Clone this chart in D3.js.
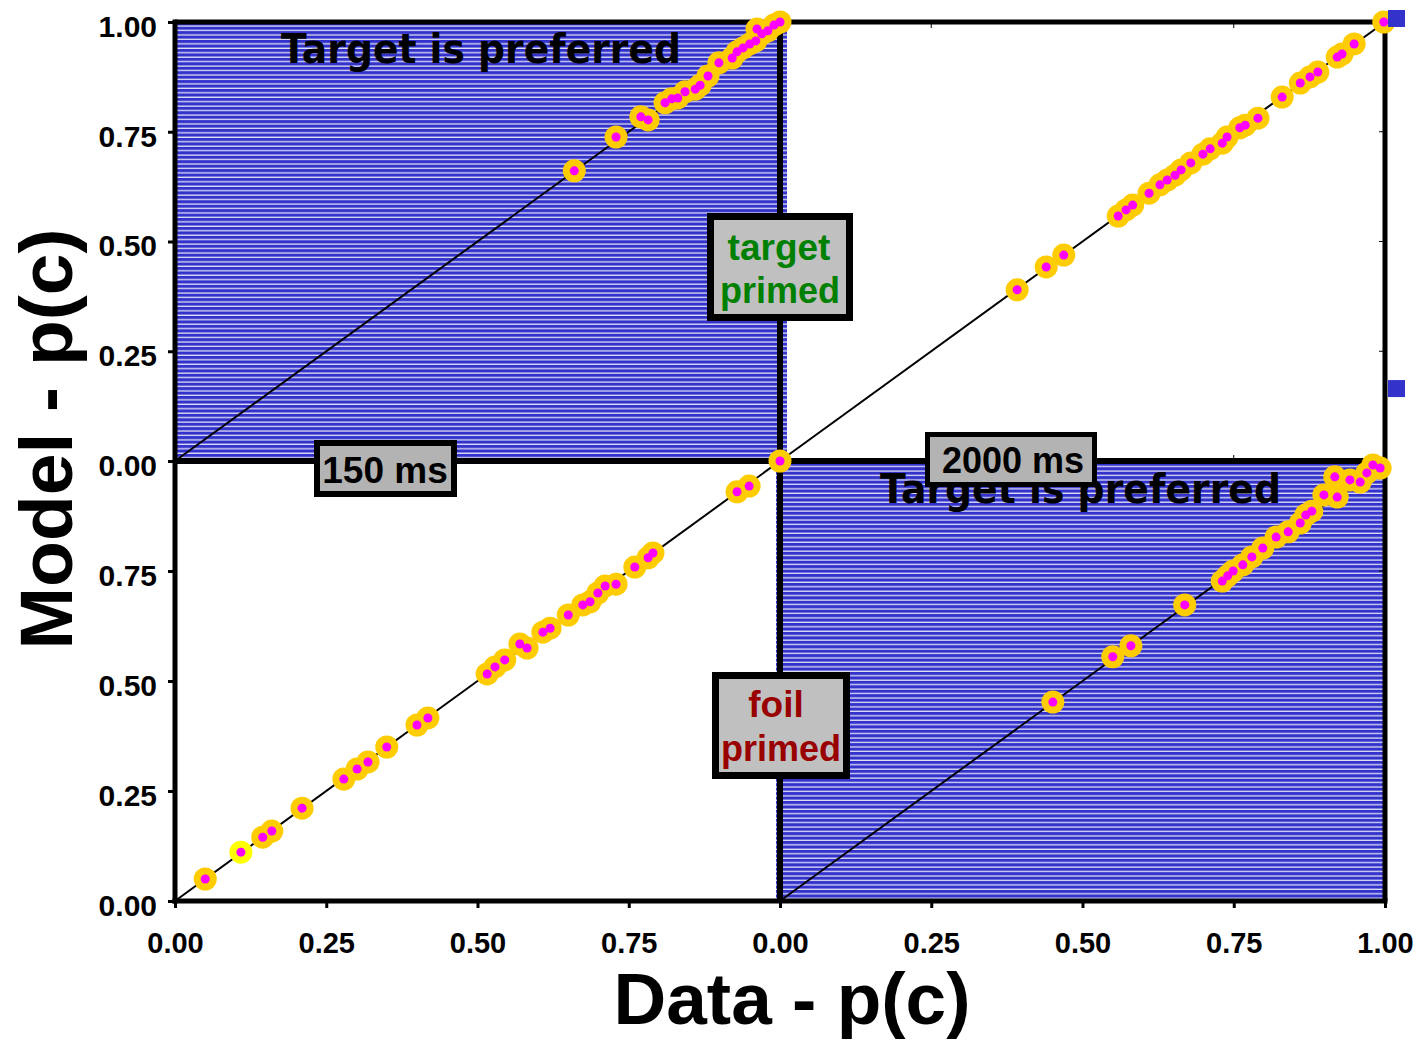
<!DOCTYPE html>
<html>
<head>
<meta charset="utf-8">
<script src="https://cdn.jsdelivr.net/npm/d3@7"></script>
<style>
  html, body { margin: 0; padding: 0; background: #ffffff; }
  svg { display: block; }
</style>
</head>
<body>
<div id="chart"></div>
<script>
// Model vs data proportion correct, four conditions: prime type x prime duration.
// Each point is [data p(c), model p(c)].

const tickValues = [0, 0.25, 0.5, 0.75, 1];

const targetPrimed150 = [
  [0.660, 0.661], [0.729, 0.738], [0.770, 0.784], [0.782, 0.777], [0.810, 0.816],
  [0.821, 0.825], [0.831, 0.827], [0.843, 0.841], [0.860, 0.847], [0.868, 0.856],
  [0.881, 0.877], [0.899, 0.907], [0.921, 0.918], [0.929, 0.932], [0.939, 0.941],
  [0.950, 0.950], [0.960, 0.957], [0.962, 0.984], [0.970, 0.973], [0.980, 0.980],
  [0.990, 0.993], [1.000, 1.000]
];

const targetPrimed2000 = [
  [0.392, 0.390], [0.440, 0.442], [0.469, 0.469], [0.559, 0.558], [0.572, 0.572],
  [0.583, 0.583], [0.610, 0.610], [0.628, 0.629], [0.640, 0.640], [0.653, 0.651],
  [0.663, 0.663], [0.679, 0.679], [0.699, 0.699], [0.711, 0.711], [0.731, 0.724],
  [0.739, 0.738], [0.760, 0.759], [0.769, 0.765], [0.790, 0.781], [0.830, 0.829],
  [0.860, 0.861], [0.876, 0.875], [0.889, 0.886], [0.921, 0.920], [0.929, 0.927],
  [0.949, 0.950], [0.998, 1.000]
];

const foilPrimed150 = [
  [0.050, 0.050], [0.145, 0.145], [0.160, 0.159], [0.210, 0.211],
  [0.279, 0.277], [0.301, 0.300], [0.319, 0.316], [0.350, 0.350], [0.400, 0.400],
  [0.418, 0.416], [0.516, 0.516], [0.529, 0.532], [0.545, 0.548], [0.570, 0.584],
  [0.582, 0.575], [0.608, 0.611], [0.620, 0.620], [0.650, 0.650], [0.674, 0.673],
  [0.686, 0.680], [0.699, 0.700], [0.711, 0.716], [0.729, 0.720], [0.760, 0.759],
  [0.782, 0.780], [0.790, 0.791], [0.929, 0.930], [0.949, 0.943], [1.000, 1.000]
];

// single highlighted condition in the 150 ms foil-primed set
const foilPrimed150Highlight = [[0.109, 0.111]];

const foilPrimed2000 = [
  [0.451, 0.452], [0.550, 0.555], [0.580, 0.580], [0.669, 0.673], [0.731, 0.727],
  [0.740, 0.739], [0.749, 0.750], [0.765, 0.764], [0.780, 0.782], [0.798, 0.802],
  [0.820, 0.827], [0.840, 0.839], [0.860, 0.859], [0.869, 0.877], [0.879, 0.886],
  [0.899, 0.923], [0.921, 0.918], [0.917, 0.964], [0.942, 0.957], [0.959, 0.952],
  [0.970, 0.973], [0.980, 0.991], [0.992, 0.984]
];

// stray square markers just outside the 2000 ms target-primed panel
const squareMarks2000 = [[1.019, 1.008], [1.019, 0.165]];

const panelLabels = ["150 ms", "2000 ms"];
const primeLabels = [["target", "primed"], ["foil", "primed"]];
const preferenceLabel = "Target is preferred";
const xTitle = "Data - p(c)";
const yTitle = "Model - p(c)";

const W = 1419, H = 1041;
const svg = d3.select("#chart").append("svg")
  .attr("width", W).attr("height", H)
  .attr("viewBox", `0 0 ${W} ${H}`);

// horizontal line hatch used for "target is preferred" regions
const defs = svg.append("defs");
const pat = defs.append("pattern")
  .attr("id", "hatch").attr("patternUnits", "userSpaceOnUse")
  .attr("width", 8).attr("height", 4.45);
pat.append("rect").attr("width", 8).attr("height", 4.45).attr("fill", "#3333cc");
pat.append("rect").attr("y", 3.2).attr("width", 8).attr("height", 1.1).attr("fill", "#ffffff");

// scales: two columns (150 ms, 2000 ms), two rows (target primed, foil primed)
const xL = d3.scaleLinear().domain([0, 1]).range([175, 780]);
const xR = d3.scaleLinear().domain([0, 1]).range([780, 1385]);
const yT = d3.scaleLinear().domain([0, 1]).range([461, 22]);
const yB = d3.scaleLinear().domain([0, 1]).range([901, 461]);

const panels = [
  { x: xL, y: yT, pts: targetPrimed150, hatch: true },
  { x: xR, y: yT, pts: targetPrimed2000, hatch: false },
  { x: xL, y: yB, pts: foilPrimed150, hatch: false },
  { x: xR, y: yB, pts: foilPrimed2000, hatch: true }
];

// hatched backgrounds
svg.append("rect")
  .attr("x", xL(0)).attr("y", yT(1))
  .attr("width", xL(1) - xL(0) + 7).attr("height", yT(0) - yT(1))
  .attr("fill", "url(#hatch)");
svg.append("rect")
  .attr("x", xR(0) - 4).attr("y", yB(1) + 2)
  .attr("width", xR(1) - xR(0) + 4).attr("height", yB(0) - yB(1) - 2)
  .attr("fill", "url(#hatch)");

// preference labels
const prefFont = "'DejaVu Sans', Verdana, sans-serif";
svg.append("text")
  .attr("x", 281).attr("y", 63)
  .attr("textLength", 400).attr("lengthAdjust", "spacingAndGlyphs")
  .attr("font-family", prefFont).attr("font-weight", "bold")
  .attr("font-size", 40).attr("fill", "#000")
  .text(preferenceLabel);
svg.append("text")
  .attr("x", 880).attr("y", 503)
  .attr("textLength", 401).attr("lengthAdjust", "spacingAndGlyphs")
  .attr("font-family", prefFont).attr("font-weight", "bold")
  .attr("font-size", 40).attr("fill", "#000")
  .text(preferenceLabel);

// identity lines
const diag = d3.line();
panels.forEach(p => {
  svg.append("path")
    .attr("d", diag([[p.x(0), p.y(0)], [p.x(1), p.y(1)]]))
    .attr("stroke", "#000").attr("stroke-width", 2).attr("fill", "none");
});

// frame lines
const frame = svg.append("g").attr("stroke", "#000").attr("stroke-width", 5).attr("fill", "none");
frame.append("line").attr("x1", xL(0)).attr("x2", xR(1)).attr("y1", yT(1)).attr("y2", yT(1));
frame.append("line").attr("x1", xL(0)).attr("x2", xR(1)).attr("y1", yT(0)).attr("y2", yT(0)).attr("stroke-width", 6);
frame.append("line").attr("x1", xR(0)).attr("x2", xR(0)).attr("y1", yT(1)).attr("y2", yB(0)).attr("stroke-width", 6);
frame.append("line").attr("x1", xR(1)).attr("x2", xR(1)).attr("y1", yT(1)).attr("y2", yB(0));

// small inner ticks on the top and right edges
const inner = svg.append("g").attr("stroke", "#000").attr("stroke-width", 1);
[0.25, 0.75].forEach(v => {
  inner.append("line").attr("x1", xR(v)).attr("x2", xR(v)).attr("y1", yT(1)).attr("y2", yT(1) + 6);
  inner.append("line").attr("x1", xR(v)).attr("x2", xR(v)).attr("y1", yB(1)).attr("y2", yB(1) - 6);
});
[0.25, 0.5, 0.75].forEach(v => {
  inner.append("line").attr("x1", xR(1)).attr("x2", xR(1) - 6).attr("y1", yT(v)).attr("y2", yT(v));
});
inner.append("line").attr("x1", xR(1)).attr("x2", xR(1) - 6).attr("y1", yB(0.75)).attr("y2", yB(0.75));

// axes
const fmt = d3.format(".2f");
const tickFont = "'Liberation Sans', Arial, sans-serif";
function styleAxis(g, size) {
  g.select(".domain").remove();
  g.selectAll(".tick line").attr("stroke", "#000").attr("stroke-width", 3);
  g.selectAll(".tick text")
    .attr("font-family", tickFont).attr("font-weight", "bold")
    .attr("font-size", size).attr("fill", "#000");
}
svg.append("g").attr("transform", `translate(${xL(0)},0)`)
  .call(d3.axisLeft(yT).tickValues(tickValues).tickFormat(fmt).tickSize(7).tickPadding(11))
  .call(styleAxis, 30)
  .call(g => g.selectAll(".tick text").attr("dy", "0.48em"));
svg.append("g").attr("transform", `translate(${xL(0)},0)`)
  .call(d3.axisLeft(yB).tickValues(tickValues.slice(0, 4)).tickFormat(fmt).tickSize(7).tickPadding(11))
  .call(styleAxis, 30)
  .call(g => g.selectAll(".tick text").attr("dy", "0.48em"));
svg.append("g").attr("transform", `translate(0,${yB(0)})`)
  .call(d3.axisBottom(xL).tickValues(tickValues.slice(0, 4)).tickFormat(fmt).tickSize(7).tickPadding(24))
  .call(styleAxis, 29);
svg.append("g").attr("transform", `translate(0,${yB(0)})`)
  .call(d3.axisBottom(xR).tickValues(tickValues).tickFormat(fmt).tickSize(7).tickPadding(24))
  .call(styleAxis, 29);

// axis lines on top of tick marks
frame.raise();
const axisLines = svg.append("g").attr("stroke", "#000").attr("stroke-width", 5);
axisLines.append("line").attr("x1", xL(0)).attr("x2", xL(0)).attr("y1", yT(1) - 2.5).attr("y2", yB(0) + 2.5);
axisLines.append("line").attr("x1", xL(0) - 2.5).attr("x2", xR(1) + 2.5).attr("y1", yB(0)).attr("y2", yB(0));

// points
function drawPoints(p, data, ring) {
  const g = svg.append("g");
  g.selectAll("circle.ring").data(data).join("circle")
    .attr("class", "ring")
    .attr("cx", d => p.x(d[0])).attr("cy", d => p.y(d[1]))
    .attr("r", 11.5).attr("fill", ring);
  g.selectAll("circle.core").data(data).join("circle")
    .attr("class", "core")
    .attr("cx", d => p.x(d[0])).attr("cy", d => p.y(d[1]))
    .attr("r", 4.5).attr("fill", "#ff00ff");
}
panels.forEach(p => drawPoints(p, p.pts, "#ffcc00"));
drawPoints(panels[2], foilPrimed150Highlight, "#ffff00");

svg.append("g").selectAll("rect").data(squareMarks2000).join("rect")
  .attr("x", d => xR(d[0]) - 8.5).attr("y", d => yT(d[1]) - 8.5)
  .attr("width", 17).attr("height", 17).attr("fill", "#3333cc");

// annotation boxes
const boxFont = "'Liberation Sans', Arial, Helvetica, sans-serif";
function box(x, y, w, h, sw, fill) {
  svg.append("rect").attr("x", x).attr("y", y).attr("width", w).attr("height", h)
    .attr("fill", fill).attr("stroke", "#000").attr("stroke-width", sw);
}
function label(x, y, txt, size, color) {
  svg.append("text").attr("x", x).attr("y", y).attr("text-anchor", "middle")
    .attr("font-family", boxFont).attr("font-weight", "bold")
    .attr("font-size", size).attr("fill", color).text(txt);
}

box(317, 443, 137, 51, 6, "#b3b3b3");
label(385, 483, panelLabels[0], 37, "#000");

box(927.5, 434.5, 167, 50, 5, "#b3b3b3");
label(1013, 473, panelLabels[1], 36, "#000");

box(710.5, 216.5, 139, 101, 7, "#c0c0c0");
label(779, 260, primeLabels[0][0], 37, "#008000");
label(780, 303, primeLabels[0][1], 36, "#008000");

box(715.5, 675.5, 131, 100, 7, "#c0c0c0");
label(776, 717, primeLabels[1][0], 37, "#990000");
label(781, 761, primeLabels[1][1], 36, "#990000");

// axis titles
svg.append("text")
  .attr("x", 792).attr("y", 1024).attr("text-anchor", "middle")
  .attr("font-family", boxFont).attr("font-weight", "bold")
  .attr("font-size", 73).attr("fill", "#000").text(xTitle);
svg.append("text")
  .attr("transform", "translate(72,439) rotate(-90)")
  .attr("text-anchor", "middle")
  .attr("font-family", boxFont).attr("font-weight", "bold")
  .attr("font-size", 75).attr("fill", "#000").text(yTitle);
</script>
</body>
</html>
